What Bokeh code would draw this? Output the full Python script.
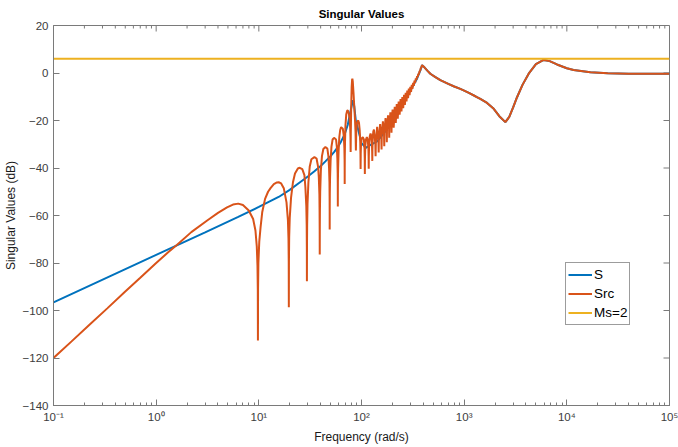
import math
from bokeh.plotting import figure
from bokeh.models import (LogTicker, FixedTicker, CustomJSTickFormatter,
                          Legend, LegendItem, Range1d)
from bokeh.embed import file_html
from bokeh.resources import INLINE

# ---------------- data ----------------
x_ticks_dec = [-1, 0, 1, 2, 3, 4, 5]
y_ticks = [-140, -120, -100, -80, -60, -40, -20, 0, 20]

# Src (orange): low-frequency rise, notches, resonant ripple band
src_w = [0.1, 0.15, 0.22, 0.334, 0.5, 0.7, 1.0, 1.3, 1.6, 2.2, 3.14, 4.0, 4.9, 5.6, 6.3, 7.0, 7.98,
         8.8, 9.27, 9.55, 9.7, 9.77, 9.8, 9.83, 9.9, 10.1, 10.4, 10.8, 11.5, 12.3, 13.0, 14.0,
         15.0, 15.6, 16.5, 17.5, 18.6, 19.2, 19.45, 19.55, 19.6, 19.65, 19.75, 20.0, 20.6, 21.5,
         22.5, 24.0, 25.0, 26.5, 27.8, 28.4, 29.0, 29.25, 29.35, 29.4, 29.45, 29.55, 29.8, 30.4,
         31.3, 32.5, 34.8, 36.5, 37.8, 38.4, 38.9, 39.05, 39.15, 39.2, 39.25, 39.35, 39.6, 40.2,
         41.2, 42.5, 44.5, 46.5, 47.6, 48.3, 48.75, 48.9, 48.97, 49.0, 49.03, 49.12, 49.4, 50.0,
         51.0, 52.3, 54.0, 56.5, 57.5, 58.2, 58.6, 58.72, 58.78, 58.8, 58.82, 58.9, 59.2, 59.8,
         60.8, 62.0, 63.3, 65.8, 67.2, 68.1, 68.45, 68.56, 68.6, 68.64, 68.75, 69.1, 69.8, 71.0,
         72.5, 73.5, 74.8, 76.5, 77.6, 78.1, 78.4, 78.7, 79.3, 80.2, 81.0, 81.5, 82.2, 83.5,
         85.0, 86.5, 87.5, 88.2, 88.9, 90.0, 91.5, 93.0, 94.5, 96.0, 97.2, 97.7, 98.0, 98.3,
         99.0, 100.5, 103.0, 105.5, 107.0, 107.5, 107.8, 108.1, 109.0, 110.5, 112.7, 115.0,
         116.8, 117.3, 117.6, 117.9, 118.8, 120.5, 122.5, 124.5, 126.5, 127.1, 127.4, 127.7,
         128.6, 130.3, 132.3,
         136.4, 137.2, 138.0, 142.1, 146.2, 147.0, 147.8, 151.9, 156.0, 156.8, 157.6, 161.7,
         165.8, 166.6, 167.4, 171.5, 175.6, 176.4, 177.2, 181.3, 185.4, 186.2, 187.0, 191.1,
         195.2, 196.0, 196.8, 200.9,
         205.8, 210.7, 215.6, 220.5, 225.4, 230.3, 235.2, 240.1, 245.0, 249.9, 254.8, 259.7,
         264.6, 269.5, 274.4, 279.3, 284.2, 289.1, 294.0, 298.9, 303.8, 308.7, 313.6, 318.5,
         323.4, 328.3, 333.2, 338.1, 343.0, 347.9, 352.8, 357.7, 362.6, 367.5, 372.4, 377.3,
         382.2]
src_db = [-120.0, -113.0, -106.3, -99.1, -92.0, -86.2, -80.0, -75.6, -72.3, -67.0, -62.1, -58.9,
          -56.6,
          -55.4, -55.0, -55.6, -57.9, -61.5, -66.3, -73.0, -81.0, -91.0, -112.6, -91.0, -80.0,
          -71.0, -64.9, -58.5, -53.0, -50.0, -48.5, -46.8, -46.1, -46.0, -46.5, -48.5, -54.5,
          -62.0, -70.0, -79.0, -98.6, -79.0, -69.0, -61.0, -52.5, -46.0, -42.3, -40.2, -39.9,
          -40.5, -43.0, -48.0, -56.0, -64.0, -73.0, -87.7, -73.0, -64.0, -55.0, -46.0, -39.5,
          -36.3, -35.4, -36.0, -39.5, -44.0, -51.0, -58.0, -66.0, -76.4, -66.0, -58.0, -50.0,
          -41.0, -35.0, -32.0, -31.2, -31.8, -35.0, -40.0, -46.0, -52.0, -58.0, -65.9, -58.0,
          -51.0, -44.0, -37.0, -31.0, -28.0, -27.3, -28.0, -31.0, -36.0, -42.0, -47.0, -51.5,
          -56.2, -51.5, -46.0, -40.0, -33.0, -27.0, -24.0, -22.8, -23.5, -26.5, -31.5, -36.5,
          -41.0, -46.7, -41.0, -35.5, -29.0, -22.0, -17.5, -15.9, -15.8, -16.5, -19.0, -23.0,
          -27.0, -33.3, -25.0, -15.0, -6.0, -2.8, -2.4, -3.5, -8.0, -14.0, -20.0, -25.0, -32.6,
          -25.0, -21.5, -20.2, -20.0, -21.0, -24.0, -29.0, -34.0, -40.4, -34.0, -29.5, -27.5,
          -27.0, -28.0, -32.0, -36.0, -42.5, -36.0, -30.5, -28.0, -27.0, -28.0, -32.0, -35.5,
          -40.3, -35.0, -29.5, -26.5, -25.5, -26.5, -30.5, -33.5, -37.0, -32.5, -27.5, -24.7,
          -23.8,
          -30.0, -35.0, -29.0, -22.7, -28.9, -33.5, -27.5, -21.5, -27.6, -32.2, -26.2, -20.3,
          -26.1, -30.8, -24.9, -19.0, -24.6, -29.2, -23.5, -17.8, -22.9, -27.3, -22.0, -16.6,
          -21.2, -25.2, -20.3, -15.4,
          -23.0, -14.2, -21.0, -13.1, -19.2, -12.0, -17.6, -11.0, -16.2, -10.1, -14.8, -9.2,
          -13.4, -8.3, -12.0, -7.4, -10.6, -6.6, -9.3, -5.8, -8.0, -5.0, -6.7, -4.1,
          -5.4, -3.2, -4.1, -2.3, -2.9, -1.3, -1.7, -0.3, -0.5, 0.8, 0.8, 2.0,
          2.2]

# S (blue) below the resonance
s_w = [0.1, 1.0, 3.0, 6.3, 10.0, 15.6, 20.0, 25.0, 30.0, 34.8, 40.0, 44.5, 50.0, 54.0, 58.8,
       63.3, 68.6, 73.5, 77.0, 80.4, 82.5, 85.0, 88.0, 93.0, 100.0, 110.0, 120.0, 142.0, 170.0,
       206.0, 249.0, 299.0, 349.0, 375.0]
s_db = [-96.6, -76.6, -67.1, -60.6, -56.4, -52.2, -49.2, -46.1, -43.6, -41.4, -39.2, -37.2,
        -35.0, -33.3, -31.2, -28.8, -25.8, -21.8, -17.5, -13.7, -11.5, -14.0, -20.0, -24.0,
        -29.5, -31.5, -30.5, -28.8, -24.7, -18.7, -13.0, -7.5, -2.2, 1.2]

# common high-frequency part (S and Src coincide)
tail_w = [389.0, 410.0, 440.0, 468.0, 520.0, 586.0, 700.0, 800.0, 918.0, 1100.0, 1300.0,
          1437.0, 1671.0, 1941.0, 2200.0, 2518.0, 2750.0, 3000.0, 3273.0, 3700.0, 4250.0,
          5000.0, 5946.0, 6800.0, 8017.0, 10000.0, 11640.0, 16940.0, 25000.0, 40000.0, 100000.0]
tail_db = [3.3, 2.4, 0.9, -0.3, -1.6, -3.0, -4.6, -5.7, -6.7, -8.3, -9.9, -10.9, -12.6, -15.1,
           -18.2, -20.7, -18.5, -14.5, -10.2, -5.0, -0.3, 3.7, 5.5, 5.0, 3.6, 2.0, 1.3, 0.3,
           -0.1, -0.3, -0.3]

# Ms = 2 bound (20*log10(2) dB)
ms_w = [0.1, 100000.0]
ms_db = [6.02, 6.02]

labels = ["S", "Src", "Ms=2"]
colors = ["#0072BD", "#D95319", "#EDB120"]

# ---------------- figure ----------------
FONT = "Liberation Sans"
AXC = "#7a7a7a"
TXC = "#3c3c3c"

x_lo, x_hi = 10.0 ** x_ticks_dec[0], 10.0 ** x_ticks_dec[-1]
y_lo, y_hi = y_ticks[0], y_ticks[-1]

p = figure(width=678, height=447, x_axis_type="log",
           x_range=Range1d(x_lo, x_hi), y_range=Range1d(y_lo, y_hi),
           output_backend="svg", toolbar_location=None,
           min_border_left=53, min_border_right=9, min_border_top=25, min_border_bottom=42)
p.background_fill_color = "white"
p.border_fill_color = "white"
p.outline_line_color = AXC
p.outline_line_width = 1
p.xgrid.visible = False
p.ygrid.visible = False

p.title.text = "Singular Values"
p.title.align = "center"
p.title.text_font = FONT
p.title.text_font_size = "11.5px"
p.title.text_font_style = "bold"
p.title.text_color = "black"
p.title.standoff = 11

fmt = CustomJSTickFormatter(code="""
const sup = {'-':'\u207b','0':'\u2070','1':'\u00b9','2':'\u00b2','3':'\u00b3','4':'\u2074',
             '5':'\u2075','6':'\u2076','7':'\u2077','8':'\u2078','9':'\u2079'};
const e = Math.round(Math.log10(tick));
return '10' + String(e).split('').map(c => sup[c]).join('');
""")

def style_axis(ax):
    ax.axis_line_color = AXC
    ax.major_tick_line_color = AXC
    ax.minor_tick_line_color = AXC
    ax.major_tick_in = 6
    ax.major_tick_out = 0
    ax.minor_tick_in = 3
    ax.minor_tick_out = 0
    ax.major_label_text_font = FONT
    ax.major_label_text_color = TXC
    ax.major_label_text_font_size = "11.5px"
    ax.major_label_standoff = 5
    ax.axis_label_text_font = FONT
    ax.axis_label_text_font_style = "normal"
    ax.axis_label_text_color = "#1a1a1a"
    ax.axis_label_text_font_size = "12px"
    ax.axis_label_standoff = 4

xb = p.xaxis[0]
xb.ticker = LogTicker(desired_num_ticks=len(x_ticks_dec), num_minor_ticks=10)
xb.formatter = fmt
xb.axis_label = "Frequency (rad/s)"
style_axis(xb)

yl = p.yaxis[0]
yl.ticker = FixedTicker(ticks=y_ticks)
yl.axis_label = "Singular Values (dB)"
style_axis(yl)
yl.axis_label_standoff = 2
yl.minor_tick_line_color = None

# box ticks on the top and right edges (MATLAB "box on"), drawn through the scales
x_major = [10.0 ** d for d in x_ticks_dec]
x_minor = [m * 10.0 ** d for d in x_ticks_dec[:-1] for m in range(2, 10)]
p.ray(x=x_major, y=[y_hi] * len(x_major), length=6, length_units="screen",
      angle=-math.pi / 2, line_color=AXC, line_width=1)
p.ray(x=x_minor, y=[y_hi] * len(x_minor), length=3, length_units="screen",
      angle=-math.pi / 2, line_color=AXC, line_width=1)
p.ray(x=[x_hi] * len(y_ticks), y=y_ticks, length=6, length_units="screen",
      angle=math.pi, line_color=AXC, line_width=1)

r_s = p.line(s_w + tail_w, s_db + tail_db, line_width=2, color=colors[0])
r_src = p.line(src_w + tail_w, src_db + tail_db, line_width=2, color=colors[1])
r_ms = p.line(ms_w, ms_db, line_width=2, color=colors[2])

legend = Legend(items=[LegendItem(label=labels[0], renderers=[r_s]),
                       LegendItem(label=labels[1], renderers=[r_src]),
                       LegendItem(label=labels[2], renderers=[r_ms])],
                location=(512, 80), orientation="vertical",
                label_text_font=FONT, label_text_font_size="13.5px", label_text_color="black",
                glyph_width=24, glyph_height=19, label_height=19, label_standoff=2,
                padding=2, spacing=0, margin=0,
                border_line_color="#3a3a3a", border_line_width=1,
                background_fill_color="white", background_fill_alpha=1.0)
p.add_layout(legend)

open("out.html", "w").write(file_html(p, INLINE))
